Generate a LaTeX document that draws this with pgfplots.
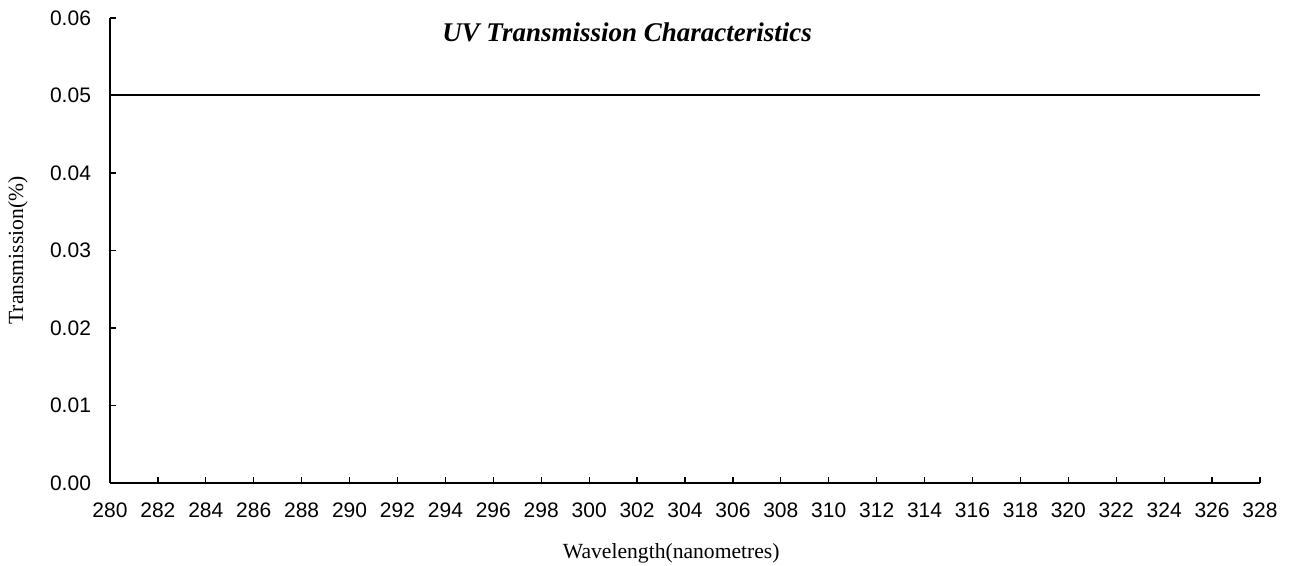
\documentclass[border=0pt]{standalone}
\usepackage{pgfplots}
\pgfplotsset{compat=1.18}
\usepackage{fontspec}
\setmainfont{Liberation Serif}
\newfontfamily\arialfont{Liberation Sans}
\begin{document}
\begin{tikzpicture}
\useasboundingbox (-55pt,-41.5pt) rectangle (590pt,241.5pt);
\begin{axis}[
  at={(0,0)}, anchor=south west,
  scale only axis,
  width=575pt, height=232.5pt,
  xmin=280, xmax=328, ymin=0, ymax=0.06,
  axis lines*=left,
  axis line style={-, line width=0.6pt},
  xtick={280,282,...,328},
  ytick={0,0.01,0.02,0.03,0.04,0.05,0.06},
  scaled y ticks=false,
  tick align=inside,
  major tick length=3pt,
  tick style={line width=0.6pt, black},
  /pgf/number format/assume math mode=true,
  ticklabel style={font=\arialfont\fontsize{10.5}{12}\selectfont},
  yticklabel style={/pgf/number format/fixed, /pgf/number format/fixed zerofill, /pgf/number format/precision=2, xshift=-6pt},
  xticklabel style={/pgf/number format/1000 sep={}, yshift=-6.5pt},
  xlabel={Wavelength(nanometres)},
  ylabel={Transmission(\%)},
  label style={font=\fontsize{10.8}{12}\selectfont},
  xlabel style={at={(rel axis cs:0.488,0)}, anchor=center, yshift=-35pt},
  ylabel style={at={(axis description cs:-0.08,0.5)}, anchor=center},
  clip=false,
]
\addplot[black, line width=1pt] coordinates {(280,0.05) (290,0.05) (300,0.05) (310,0.05) (320,0.05) (328,0.05)};
\node[font=\bfseries\itshape\fontsize{13.5}{15}\selectfont] at (rel axis cs:0.4496,0.97) {UV Transmission Characteristics};
\end{axis}
\end{tikzpicture}
\end{document}
